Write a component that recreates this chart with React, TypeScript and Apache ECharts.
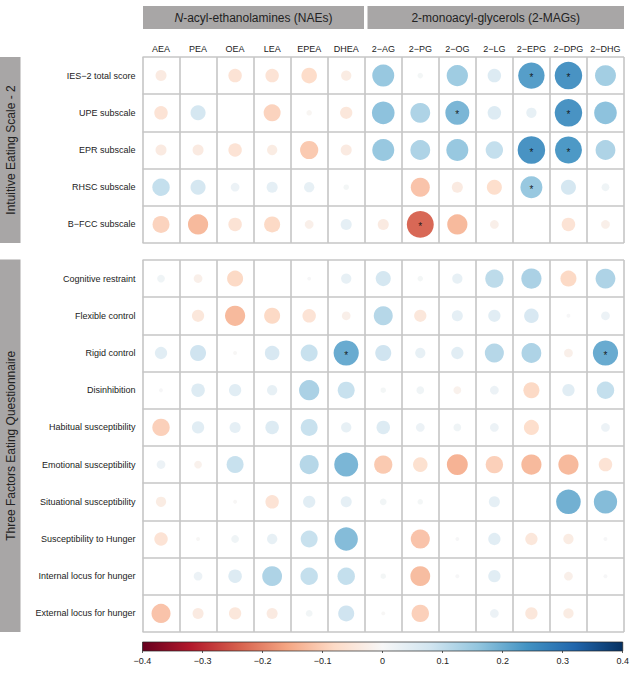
import React, { useEffect, useRef } from "react";
import * as echarts from "echarts";

const COLS = ["AEA", "PEA", "OEA", "LEA", "EPEA", "DHEA", "2\u2212AG", "2\u2212PG", "2\u2212OG", "2\u2212LG", "2\u2212EPG", "2\u2212DPG", "2\u2212DHG"];
const IES_ROWS = ["IES\u22122 total score", "UPE subscale", "EPR subscale", "RHSC subscale", "B\u2212FCC subscale"];
const TFEQ_ROWS = [
  "Cognitive restraint",
  "Flexible control",
  "Rigid control",
  "Disinhibition",
  "Habitual susceptibility",
  "Emotional susceptibility",
  "Situational susceptibility",
  "Susceptibility to Hunger",
  "Internal locus for hunger",
  "External locus for hunger",
];

// correlation coefficients, rows x columns (COLS order)
const IES_VALUES = [
  [-0.04, 0, -0.06, -0.06, -0.08, -0.035, 0.16, 0.01, 0.15, 0.06, 0.23, 0.25, 0.145],
  [-0.06, 0.075, 0, -0.095, -0.01, -0.05, 0.17, 0.13, 0.19, 0.06, 0.035, 0.25, 0.17],
  [-0.04, -0.04, -0.06, -0.035, -0.11, -0.04, 0.16, 0.13, 0.16, 0.1, 0.25, 0.24, 0.13],
  [0.1, 0.075, 0.025, 0.04, 0.035, 0.01, 0, -0.12, -0.04, -0.075, 0.16, 0.075, 0.02],
  [-0.095, -0.135, -0.06, -0.085, -0.025, 0.04, -0.04, -0.24, -0.135, -0.025, 0, -0.06, -0.025],
];
const TFEQ_VALUES = [
  [0.02, -0.025, -0.085, 0, 0.005, 0.035, 0.075, 0.01, 0.035, 0.11, 0.135, -0.085, 0.13],
  [0, -0.05, -0.135, -0.085, -0.06, -0.025, 0.12, -0.05, 0.04, 0.05, 0.07, 0.005, 0.025],
  [0.05, 0.085, -0.005, 0.07, 0.095, 0.21, 0.085, 0.035, 0.05, 0.12, 0.13, -0.025, 0.21],
  [0.005, 0.06, 0.05, 0.035, 0.135, 0.095, 0.01, 0.02, -0.02, 0.025, -0.085, 0.05, 0.1],
  [-0.1, 0.05, 0.04, 0.06, 0.095, 0.035, 0.06, 0.025, 0.02, 0.025, -0.075, 0, 0.025],
  [0.025, -0.02, 0.095, 0, 0.12, 0.19, -0.11, -0.07, -0.145, -0.1, -0.135, -0.135, -0.06],
  [-0.035, 0, -0.005, -0.06, 0.05, 0.04, 0.015, 0.01, 0, 0.04, 0, 0.2, 0.18],
  [-0.06, -0.005, 0.02, 0.035, 0.095, 0.18, 0, -0.12, 0.005, 0.05, -0.05, -0.035, 0.005],
  [0, 0.025, 0.06, 0.13, 0.1, 0.1, 0.01, -0.13, 0.005, 0.05, 0, -0.025, 0.005],
  [-0.12, -0.04, -0.05, -0.04, 0.015, 0.085, -0.005, -0.1, 0, 0.025, -0.05, -0.035, 0],
];
// significant cells: [row, column]
const IES_SIG = [[0, 10], [0, 11], [1, 8], [1, 11], [2, 10], [2, 11], [3, 10], [4, 7]];
const TFEQ_SIG = [[2, 5], [2, 12]];

const COLOR_TICKS = [-0.4, -0.3, -0.2, -0.1, 0, 0.1, 0.2, 0.3, 0.4];
const RDBU = ["#67001f", "#b2182b", "#d6604d", "#f4a582", "#fddbc7", "#f7f7f7", "#d1e5f0", "#92c5de", "#4393c3", "#2166ac", "#053061"];

const FONT = "Liberation Sans, Arial, Helvetica, sans-serif";

function buildData(rows: string[], values: number[][], sig: number[][]) {
  const out: any[] = [];
  rows.forEach((r, i) => {
    COLS.forEach((c, j) => {
      const s = sig.some((p) => p[0] === i && p[1] === j) ? 1 : 0;
      out.push([c, r, values[i][j], s]);
    });
  });
  return out;
}

export default function App() {
  const ref = useRef<HTMLDivElement>(null);
  useEffect(() => {
    if (!ref.current) return;
    const chart = echarts.init(ref.current, undefined, { renderer: "svg" });
    const GL = 142.5;
    const GW = 481.5;
    const lineStyle = { color: "#c6c6c6", width: 1.6 };
    const catX = (gi: number, show: boolean) => ({
      type: "category",
      gridIndex: gi,
      data: COLS,
      position: "top",
      axisLine: { show: false },
      axisTick: { show: false },
      axisLabel: { show, fontSize: 9, color: "#222", fontFamily: FONT, margin: 4, interval: 0 },
      splitLine: { show: true, interval: 0, lineStyle },
    });
    const catY = (gi: number, rows: string[]) => ({
      type: "category",
      gridIndex: gi,
      data: rows,
      inverse: true,
      axisLine: { show: false },
      axisTick: { show: false },
      axisLabel: { fontSize: 9, color: "#222", fontFamily: FONT, margin: 7, interval: 0 },
      splitLine: { show: true, interval: 0, lineStyle },
    });
    const scatterSeries = (gi: number, data: any[]) => ({
      type: "scatter",
      xAxisIndex: gi,
      yAxisIndex: gi,
      data,
      symbol: "circle",
      symbolSize: (v: any) => 55 * Math.sqrt(Math.abs(v[2])),
      itemStyle: { opacity: 0.95 },
      label: {
        show: true,
        position: "inside",
        formatter: (p: any) => (p.data[3] ? "*" : ""),
        color: "#111",
        fontSize: 10,
        fontFamily: FONT,
        offset: [0, 2],
      },
      z: 3,
    });
    const stripText = (txt: string, rich?: any) => ({ text: txt, fontSize: 12, fill: "#222", fontFamily: FONT, rich });
    chart.setOption({
      animation: false,
      grid: [
        { left: GL, top: 57, width: GW, height: 186 },
        { left: GL, top: 260, width: GW, height: 372 },
        { left: GL, top: 642, width: GW, height: 9 },
      ],
      xAxis: [
        catX(0, true),
        catX(1, false),
        {
          type: "value",
          gridIndex: 2,
          min: -0.4,
          max: 0.4,
          interval: 0.1,
          position: "bottom",
          axisLine: { show: false },
          axisTick: { show: true, inside: false, length: 2, lineStyle: { color: "#333", width: 0.8 } },
          splitLine: { show: false },
          axisLabel: {
            fontSize: 9,
            color: "#222",
            fontFamily: FONT,
            margin: 5,
            formatter: (v: number) => {
              const r = Math.round(v * 10) / 10;
              if (r === 0) return "0";
              return (r < 0 ? "\u2212" : "") + Math.abs(r).toFixed(1);
            },
          },
        },
      ],
      yAxis: [
        catY(0, IES_ROWS),
        catY(1, TFEQ_ROWS),
        { type: "value", gridIndex: 2, min: 0, max: 1, show: false },
      ],
      visualMap: {
        type: "continuous",
        show: false,
        min: COLOR_TICKS[0],
        max: COLOR_TICKS[COLOR_TICKS.length - 1],
        dimension: 2,
        seriesIndex: [0, 1],
        inRange: { color: RDBU },
      },
      series: [
        scatterSeries(0, buildData(IES_ROWS, IES_VALUES, IES_SIG)),
        scatterSeries(1, buildData(TFEQ_ROWS, TFEQ_VALUES, TFEQ_SIG)),
        {
          type: "custom",
          xAxisIndex: 2,
          yAxisIndex: 2,
          data: [[COLOR_TICKS[0], 0, COLOR_TICKS[COLOR_TICKS.length - 1], 1]],
          encode: { x: [0, 2], y: [1, 3] },
          renderItem: (params: any, api: any) => {
            const p0 = api.coord([api.value(0), api.value(1)]);
            const p1 = api.coord([api.value(2), api.value(3)]);
            return {
              type: "rect",
              shape: { x: p0[0], y: p1[1], width: p1[0] - p0[0], height: p0[1] - p1[1] },
              style: {
                fill: new echarts.graphic.LinearGradient(
                  0, 0, 1, 0,
                  RDBU.map((c, i) => ({ offset: i / (RDBU.length - 1), color: c }))
                ),
                stroke: "#222",
                lineWidth: 0.7,
              },
            };
          },
        },
      ],
      graphic: [
        { type: "rect", shape: { x: 143, y: 6, width: 221, height: 23 }, style: { fill: "#a8a6a6" } },
        { type: "rect", shape: { x: 367.5, y: 6, width: 256.5, height: 23 }, style: { fill: "#a8a6a6" } },
        {
          type: "text",
          x: 253.5,
          y: 17.5,
          style: {
            ...stripText("{i|N}-acyl-ethanolamines (NAEs)", { i: { fontStyle: "italic", fontSize: 12, fontFamily: FONT, fill: "#222" } }),
            align: "center",
            verticalAlign: "middle",
          },
        },
        {
          type: "text",
          x: 495.75,
          y: 17.5,
          style: { ...stripText("2-monoacyl-glycerols (2-MAGs)"), align: "center", verticalAlign: "middle" },
        },
        { type: "rect", shape: { x: 0, y: 57, width: 20.5, height: 186 }, style: { fill: "#a8a6a6" } },
        { type: "rect", shape: { x: 0, y: 259.5, width: 20.5, height: 372.5 }, style: { fill: "#a8a6a6" } },
        {
          type: "text",
          x: 10.5,
          y: 150,
          rotation: Math.PI / 2,
          style: { ...stripText("Intuitive Eating Scale - 2"), align: "center", verticalAlign: "middle" },
        },
        {
          type: "text",
          x: 10.5,
          y: 445.75,
          rotation: Math.PI / 2,
          style: { ...stripText("Three Factors Eating Questionnaire"), align: "center", verticalAlign: "middle" },
        },
      ],
    });
    return () => chart.dispose();
  }, []);
  return <div ref={ref} style={{ position: "absolute", left: 0, top: 0, width: 632, height: 673 }} />;
}
